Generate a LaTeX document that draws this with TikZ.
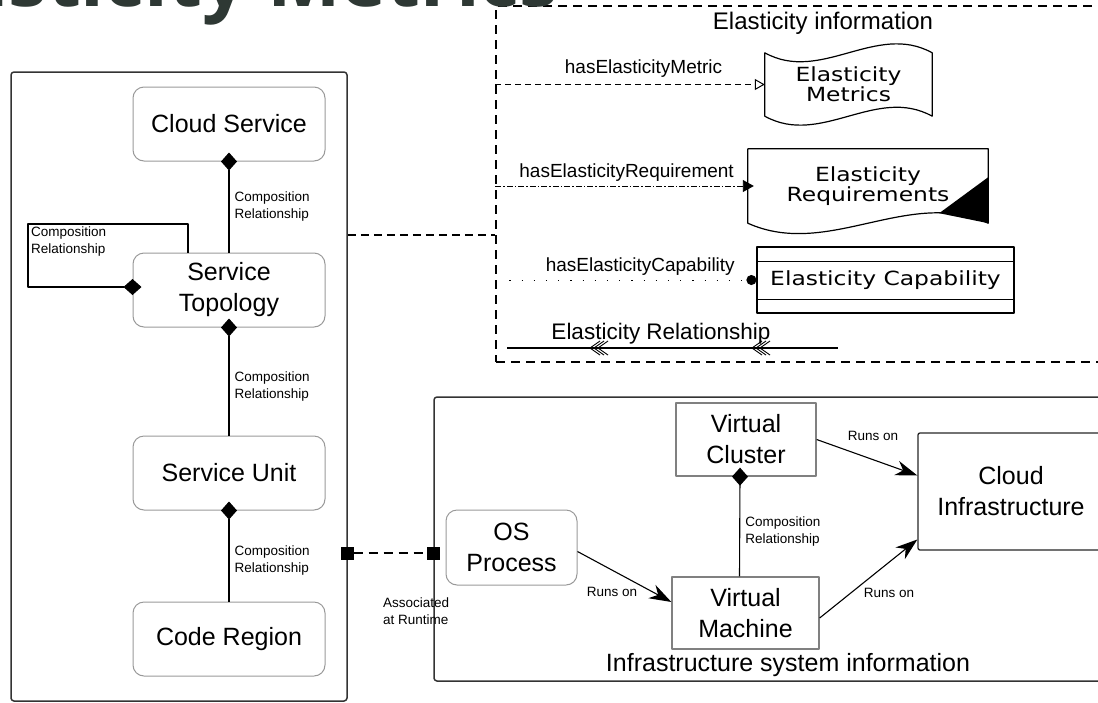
\documentclass[tikz,border=0pt]{standalone}
\usepackage{fontspec}
\setmainfont{Liberation Sans}
\newfontfamily\shapefont[FakeStretch=1.2]{DejaVu Sans}
\newfontfamily\titlefont{Open Sans}
\usetikzlibrary{arrows.meta,positioning}
\definecolor{titlegrey}{RGB}{46,56,52}

\begin{document}
\begin{tikzpicture}[x=1pt,y=-1pt,line join=round,
  every node/.style={inner sep=2pt},
  part/.style={draw=black!40, line width=1pt, rounded corners=11pt, minimum width=192pt, minimum height=74pt, align=center, font=\fontsize{25}{31}\selectfont},
  vbox/.style={draw=black!50, line width=1.3pt, align=center, font=\fontsize{25}{31}\selectfont},
  frame/.style={draw=black!80, line width=1.5pt, rounded corners=3pt},
  small/.style={font=\fontsize{13.5}{17}\selectfont, align=left},
  haslbl/.style={font=\fontsize{19}{22}\selectfont},
  shapetext/.style={font=\shapefont\fontsize{19.5}{20}\selectfont, align=center},
  comp/.style={line width=1.1pt, -{Diamond[length=18pt,width=16pt]}, shorten >=-9pt},
  runs/.style={line width=1.1pt, -{Stealth[length=22pt,width=15pt,inset=7pt]}}
]

\useasboundingbox (0,0) rectangle (1098,702);
\clip (0,0) rectangle (1098,702);

% service side
\node[frame, minimum width=336pt, minimum height=629pt] (svc) at (179,386.5) {};

\node[part] (cs) at (229,124) {Cloud Service};
\node[part, below=91pt of cs] (st) {Service\\Topology};
\node[part, below=108pt of st] (su) {Service Unit};
\node[part, below=91pt of su] (cr) {Code Region};

\draw[comp] (st) -- (cs) node[small, right=3pt, midway] (lblcs) {Composition\\Relationship};
\draw[comp] (su) -- (st) node[small, right=3pt, pos=.45] (lblst) {Composition\\Relationship};
\draw[comp] (cr) -- (su) node[small, right=3pt, pos=.45] (lblsu) {Composition\\Relationship};
\draw[comp] ([xshift=-41pt]st.north) |- (28,224) |- ([yshift=3pt]st.west);
\node[small, anchor=north west] (lblloop) at (29,225) {Composition\\Relationship};

% elasticity information
\node[draw, line width=1.4pt, dash pattern=on 9pt off 6pt, minimum width=630pt, minimum height=356pt] (einfo) at (811,184) {};
\node[font=\fontsize{24}{28}\selectfont] (einfolbl) at (823,23) {Elasticity information};

\draw[line width=1.4pt, dash pattern=on 8pt off 5pt] (svc.east |- 0,235) -- (einfo.west |- 0,235);

\node[shapetext, minimum width=167pt, minimum height=63pt, inner sep=0pt] (metrics) at (848.5,84.5) {Elasticity\\Metrics};
\draw[line width=1.2pt] (metrics.north west) .. controls +(56,31) and +(-56,-31) .. (metrics.north east)
  -- (metrics.south east) .. controls +(-56,-31) and +(56,31) .. (metrics.south west) -- cycle;
\draw[line width=1pt, dash pattern=on 6pt off 4pt, -{Triangle[open,length=10pt,width=11pt]}]
  (einfo.west |- metrics) -- (metrics) node[haslbl, pos=.55, above=5pt] (lblmetric) {hasElasticityMetric};

\node[shapetext, minimum width=240pt, minimum height=74pt, inner sep=0pt] (req) at (868,186) {Elasticity\\Requirements};
\draw[line width=1.2pt] (req.south west) -- (req.north west) -- (req.north east) -- (req.south east)
  .. controls +(-80,-36) and +(80,36) .. (req.south west) -- cycle;
\fill ([shift={(-49,-10)}]req.south east) -- ([shift={(0,-46)}]req.south east) -- (req.south east) -- cycle;
\draw[line width=.9pt, dash pattern=on 6pt off 2pt on 1.5pt off 2pt, -{Triangle[length=11pt,width=12pt]}, shorten >=-6pt]
  (einfo.west |- req) -- (req) node[haslbl, pos=.52, above=2pt] (lblreq) {hasElasticityRequirement};

\node[shapetext, draw, line width=1.2pt, minimum width=257pt, minimum height=66pt] (cap) at (885.5,280) {Elasticity Capability};
\draw[line width=1.2pt] ([shift={(0,15)}]cap.north west) -- ([shift={(0,15)}]cap.north east)
  ([shift={(0,-14)}]cap.south west) -- ([shift={(0,-14)}]cap.south east);
\draw[line width=1pt, dash pattern=on 1.2pt off 11pt, -{Circle[length=10pt]}]
  ([xshift=14pt]einfo.west |- cap) -- (cap) node[haslbl, pos=.53, above=2pt] (lblcap) {hasElasticityCapability};

\coordinate (relL) at (507,348);
\coordinate (relR) at (838,348);
\draw[line width=1.2pt] (relL) -- (relR) node[pos=.465, above=1pt, font=\fontsize{22.5}{26}\selectfont] (lblrel) {Elasticity Relationship};
\foreach \cx in {590,752}
  \foreach \d in {0,4,8}
    \draw[line width=.9pt] (\cx+\d+10,341) -- (\cx+\d,348) -- (\cx+\d+10,355);

% infrastructure
\node[frame, minimum width=690pt, minimum height=284pt] (infra) at (779,539) {};
\draw[line width=1.4pt, dash pattern=on 9pt off 6pt, {Square[length=13pt,width=13pt]}-{Square[length=13pt,width=13pt]}, shorten <=-6.5pt, shorten >=-6.5pt]
  (svc.east |- 0,553) -- (infra.west |- 0,553);
\node[small, anchor=west] (lblassoc) at (381,611) {Associated\\at Runtime};

\node[part, minimum width=131pt, minimum height=75pt] (osp) at (511.5,547.5) {OS\\Process};
\node[vbox, minimum width=140pt, minimum height=73pt] (vc) at (746,439.5) {Virtual\\Cluster};
\node[vbox, minimum width=147pt, minimum height=72pt] (vm) at (745.5,613) {Virtual\\Machine};
\node[vbox, draw=black!85, rounded corners=2pt, minimum width=186pt, minimum height=117pt] (ci) at (1011,491.5) {Cloud\\Infrastructure};

\draw[comp] ([xshift=-6pt]vm.north) -- ([xshift=-6pt]vc.south) node[small, right=3pt, pos=.45] (lblvc) {Composition\\Relationship};
\draw[runs] ([yshift=-4pt]osp.east) -- ([yshift=11pt]vm.west);
\draw[runs] (vc.east) -- ([yshift=16pt]ci.west);
\draw[runs] ([yshift=-5pt]vm.east) -- ([yshift=-48pt]ci.west);
\node[small] (lblrun1) at (612,592) {Runs on};
\node[small] (lblrun2) at (873,436) {Runs on};
\node[small] (lblrun3) at (889,593) {Runs on};
\node[font=\fontsize{25}{30}\selectfont] (infralbl) at (788,665) {Infrastructure system information};

% slide title, cut by the page
\node[font=\titlefont\bfseries\fontsize{78}{80}\selectfont, text=titlegrey, anchor=base east, inner sep=0pt] (title) at (559,6) {Elasticity Metrics};

\end{tikzpicture}
\end{document}
